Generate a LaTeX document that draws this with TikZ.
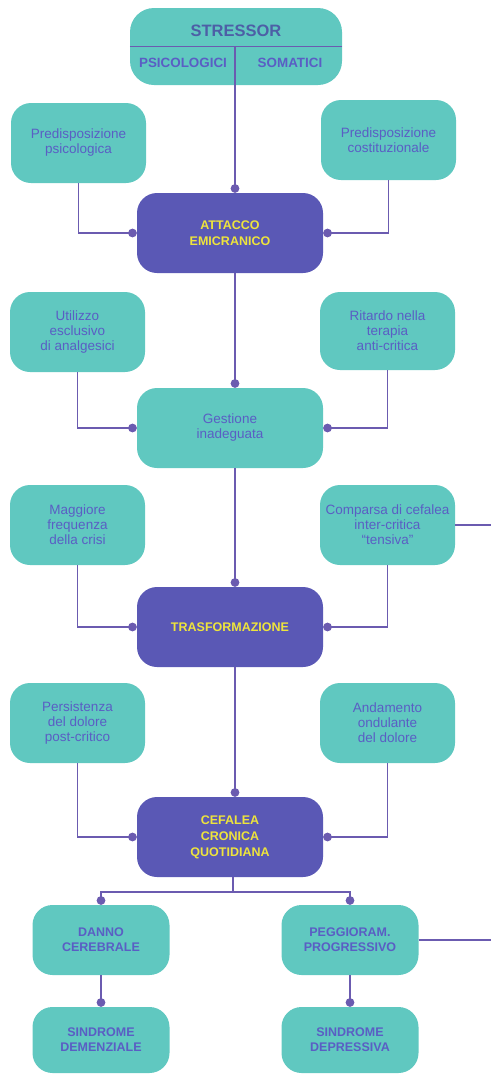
\documentclass[tikz,border=0pt]{standalone}
\usepackage{fontspec}
\setmainfont{Liberation Sans}
\usetikzlibrary{positioning}
\usetikzlibrary{shapes,arrows}
\definecolor{aqua}{HTML}{60C8C0}
\definecolor{violetbox}{HTML}{5A58B5}
\definecolor{ink}{HTML}{5A5EC4}
\definecolor{inkdark}{HTML}{4D5FA6}
\definecolor{gold}{HTML}{EEE43C}
\definecolor{wire}{HTML}{6B5BB0}

\begin{document}
\begin{tikzpicture}[x=1pt, y=-1pt,
  box/.style={fill=aqua, rounded corners=20pt, align=center, inner sep=0pt, text=ink, font=\fontsize{13.5}{15}\selectfont},
  side/.style={box, minimum width=135pt, minimum height=80pt},
  core/.style={box, fill=violetbox, text=gold, minimum width=186pt, minimum height=80pt, font=\fontsize{12.5}{16}\selectfont\bfseries},
  fin/.style={box, minimum width=137pt, minimum height=70pt, font=\fontsize{12.5}{15}\selectfont\bfseries},
  link/.style={draw=wire, line width=1.8pt, -*},
  wire/.style={draw=wire, line width=1.8pt}]
\useasboundingbox (0,0) rectangle (491,1074);

% stressor
\node[box, minimum width=212pt, minimum height=77pt, rounded corners=24pt] (stress) at (236,46.5) {};
\node[text=inkdark, font=\fontsize{16.5}{17}\selectfont\bfseries] (stresst) at (236,31) {STRESSOR};
\node[text=ink, font=\fontsize{13.4}{14}\selectfont\bfseries] (psi) at (183,63) {PSICOLOGICI};
\node[text=ink, font=\fontsize{13.4}{14}\selectfont\bfseries] (som) at (290,63) {SOMATICI};
\coordinate (split) at (235,46.5);
\draw[wire] (stress.west) -- (stress.east);

% causes and stages
\node[side] (pp) at (78.5,143) {Predisposizione\\psicologica};
\node[side] (pc) at (388.5,140) {Predisposizione\\costituzionale};
\node[core] (att) at (230,233) {ATTACCO\\EMICRANICO};
\node[side] (ua) at (77.5,332) {Utilizzo\\esclusivo\\di analgesici};
\node[side, minimum height=78pt] (rt) at (387.5,331) {Ritardo nella\\terapia\\anti-critica};
\node[core, fill=aqua, text=ink, font=\fontsize{13.5}{15}\selectfont] (gest) at (230,428) {Gestione\\inadeguata};
\node[side] (mf) at (77.5,525) {Maggiore\\frequenza\\della crisi};
\node[side] (comp) at (387.5,525) {Comparsa di cefalea\\inter-critica\\``tensiva''};
\node[core] (tras) at (230,627) {TRASFORMAZIONE};
\node[side] (pd) at (77.5,723) {Persistenza\\del dolore\\post-critico};
\node[side] (ad) at (387.5,723) {Andamento\\ondulante\\del dolore};
\node[core] (ccq) at (230,837) {CEFALEA\\CRONICA\\QUOTIDIANA};

% outcomes
\node[fin] (danno) at (101,940) {DANNO\\CEREBRALE};
\node[fin] (pegg) at (350,940) {PEGGIORAM.\\PROGRESSIVO};
\node[fin, minimum height=66pt] (dem) at (101,1040) {SINDROME\\DEMENZIALE};
\node[fin, minimum height=66pt] (dep) at (350,1040) {SINDROME\\DEPRESSIVA};

% connectors
\draw[link] (split) -- (split |- att.north);
\draw[link] (pp.south) |- (att.west);
\draw[link] (pc.south) |- (att.east);
\draw[link] (att.south -| split) -- (split |- gest.north);
\draw[link] (ua.south) |- (gest.west);
\draw[link] (rt.south) |- (gest.east);
\draw[link] (gest.south -| split) -- (split |- tras.north);
\draw[link] (mf.south) |- (tras.west);
\draw[link] (comp.south) |- (tras.east);
\draw[link] (tras.south -| split) -- (split |- ccq.north);
\draw[link] (pd.south) |- (ccq.west);
\draw[link] (ad.south) |- (ccq.east);
\coordinate (fork) at (233,892);
\draw[wire] (ccq.south -| fork) -- (fork);
\draw[link] (fork) -| (danno.north);
\draw[link] (fork) -| (pegg.north);
\draw[link] (danno) -- (dem);
\draw[link] (pegg) -- (dep);
\coordinate (outA) at (491,525);
\coordinate (outB) at (491,940);
\draw[wire] (comp.east) -- (outA);
\draw[wire] (pegg.east) -- (outB);
\end{tikzpicture}
\end{document}
